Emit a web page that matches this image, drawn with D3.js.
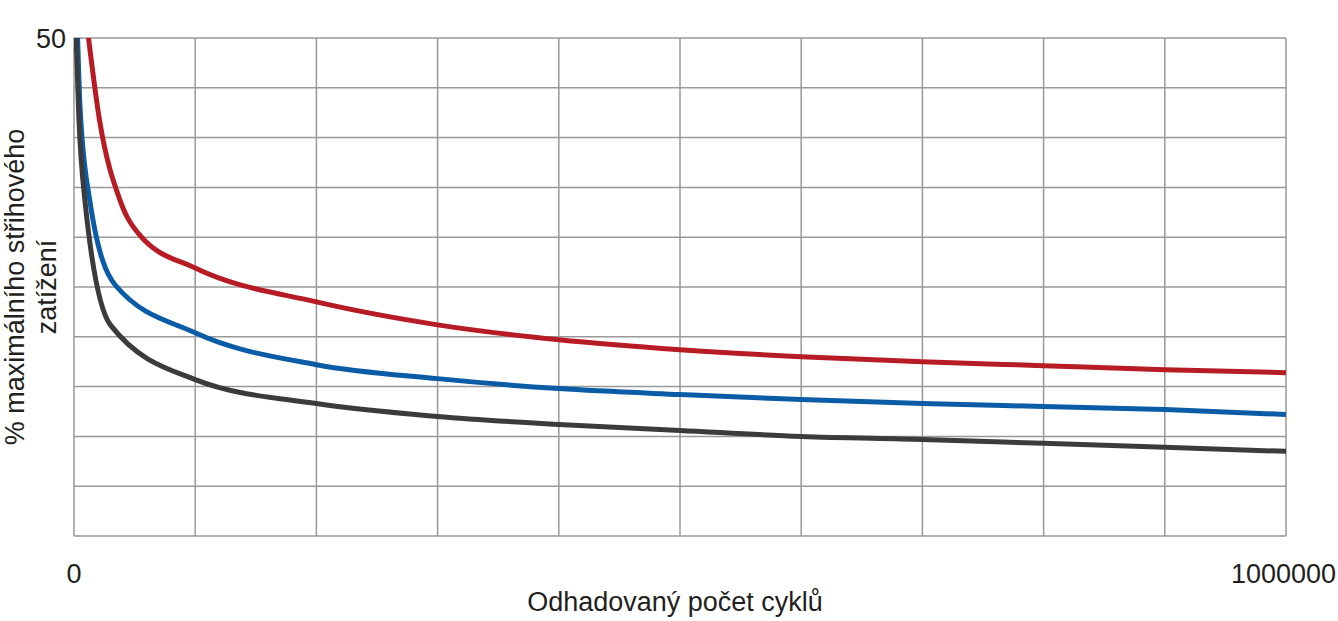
<!DOCTYPE html>
<html><head><meta charset="utf-8">
<script src="https://cdn.jsdelivr.net/npm/d3@7"></script>
<style>body{margin:0;background:#fff;font-family:"Liberation Sans",Arial,sans-serif}</style>
</head><body><svg id="chart" width="1338" height="621"></svg>
<script>
const cycles = [0, 100000, 200000, 300000, 400000, 500000, 600000, 700000, 800000, 900000, 1000000];
const redSeries = [[10000, 52], [21000, 41.8], [38000, 33.7], [55000, 30.1], [100000, 26.9], [200000, 23.5], [300000, 21.2], [400000, 19.7], [500000, 18.7], [600000, 18.0], [700000, 17.5], [800000, 17.1], [900000, 16.7], [1000000, 16.4]];
const blueSeries = [[2500, 52], [5000, 43], [13000, 33.7], [34000, 25.2], [100000, 20.4], [200000, 17.2], [300000, 15.8], [400000, 14.8], [500000, 14.2], [600000, 13.7], [700000, 13.3], [800000, 13.0], [900000, 12.7], [1000000, 12.2]];
const blackSeries = [[1200, 52], [4000, 42], [9000, 33.7], [30000, 21.2], [100000, 15.7], [200000, 13.3], [300000, 12.0], [400000, 11.2], [500000, 10.6], [600000, 10.0], [700000, 9.7], [800000, 9.3], [900000, 8.9], [1000000, 8.5]];
const yTicks = [0, 5, 10, 15, 20, 25, 30, 35, 40, 45, 50];

const svg = d3.select("#chart");
const margin = { top: 38, right: 52, bottom: 85, left: 74 };
const width = 1338 - margin.left - margin.right;
const height = 621 - margin.top - margin.bottom;
const g = svg.append("g").attr("transform", `translate(${margin.left},${margin.top})`);

const x = d3.scaleLinear().domain([0, 1000000]).range([0, width]);
const y = d3.scaleLinear().domain([0, 50]).range([height, 0]);

// grid
g.selectAll(".vg").data(cycles).join("line")
  .attr("x1", d => x(d)).attr("x2", d => x(d)).attr("y1", 0).attr("y2", height)
  .attr("stroke", "#999").attr("stroke-width", 1.5);
g.selectAll(".hg").data(yTicks).join("line")
  .attr("y1", d => y(d)).attr("y2", d => y(d)).attr("x1", 0).attr("x2", width)
  .attr("stroke", "#999").attr("stroke-width", 1.5);

svg.append("clipPath").attr("id", "clip").append("rect").attr("width", width).attr("height", height);

const line = d3.line().x(d => x(d[0])).y(d => y(d[1])).curve(d3.curveMonotoneX);
[[redSeries, "#b71c25"], [blueSeries, "#0b5ca6"], [blackSeries, "#3b3b3d"]].forEach(([s, c]) => {
  g.append("path").datum(s).attr("clip-path", "url(#clip)")
    .attr("fill", "none").attr("stroke", c).attr("stroke-width", 5).attr("d", line);
});

// labels
const fs = "27px";
svg.append("text").attr("x", 66).attr("y", 48).attr("text-anchor", "end").attr("font-size", fs).attr("fill", "#231f20").text("50");
svg.append("text").attr("x", 74).attr("y", 583).attr("text-anchor", "middle").attr("font-size", fs).attr("fill", "#231f20").text("0");
svg.append("text").attr("x", 1336).attr("y", 583).attr("text-anchor", "end").attr("font-size", fs).attr("fill", "#231f20").text("1000000");
svg.append("text").attr("x", 675).attr("y", 611).attr("text-anchor", "middle").attr("font-size", fs).attr("fill", "#231f20").text("Odhadovaný počet cyklů");
const yl = svg.append("text").attr("transform", "translate(24,287) rotate(-90)").attr("text-anchor", "middle").attr("font-size", fs).attr("fill", "#231f20");
yl.append("tspan").attr("x", 0).attr("dy", 0).text("% maximálního střihového");
yl.append("tspan").attr("x", 0).attr("dy", 32).text("zatížení");
</script></body></html>
